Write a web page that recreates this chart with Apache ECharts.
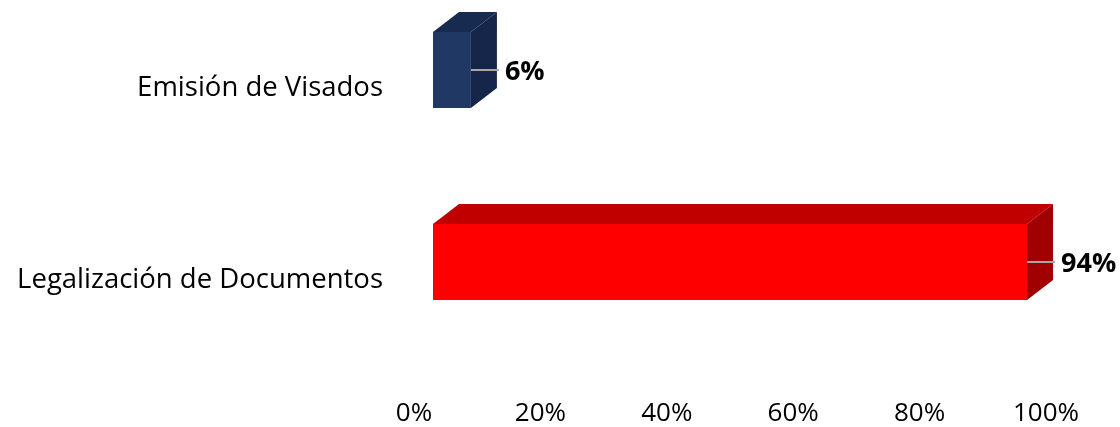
<!DOCTYPE html>
<html>
<head>
<meta charset="utf-8">
<script src="https://cdn.jsdelivr.net/npm/echarts@6/dist/echarts.min.js"></script>
<style>html,body{margin:0;padding:0;background:#fff}#c{width:1120px;height:427px}</style>
</head>
<body>
<div id="c"></div>
<script>
const categories = ['Emisión de Visados', 'Legalización de Documentos'];
const values = [6, 94];
const xTicks = [0, 20, 40, 60, 80, 100];

const frontColors = ['#203864', '#FF0000'];
const topColors = ['#172B50', '#C00000'];
const sideColors = ['#15264A', '#A00000'];

const FONT = '"Open Sans", "Noto Sans", sans-serif';
const DX = 26, DY = 20, BAR_H = 76;

const chart = echarts.init(document.getElementById('c'), null, {renderer: 'canvas'});

function renderItem(params, api) {
  const cat = api.value(1);
  const v = api.value(0);
  const base = api.coord([0, cat]);
  const end = api.coord([v, cat]);
  const h = BAR_H;
  const x0 = base[0], x1 = end[0], c = base[1];
  const y0 = c - h / 2, y1 = c + h / 2;
  const i = params.dataIndex;
  return {
    type: 'group',
    children: [
      {type: 'polygon', shape: {points: [[x0, y0], [x0 + DX, y0 - DY], [x1 + DX, y0 - DY], [x1, y0]]}, style: {fill: topColors[i]}},
      {type: 'polygon', shape: {points: [[x1, y0], [x1 + DX, y0 - DY], [x1 + DX, y1 - DY], [x1, y1]]}, style: {fill: sideColors[i]}},
      {type: 'rect', shape: {x: x0, y: y0, width: x1 - x0, height: h}, style: {fill: frontColors[i]}},
      {type: 'line', shape: {x1: x1, y1: c, x2: x1 + 28, y2: c}, style: {stroke: '#A6A6A6', lineWidth: 2}},
      {type: 'text', style: {x: x1 + 34, y: c + 2, text: values[i] + '%', font: 'bold 27px ' + FONT, fill: '#000', verticalAlign: 'middle', align: 'left'}}
    ]
  };
}

chart.setOption({
  animation: false,
  grid: {left: 433, right: 52, top: 70, bottom: 162, containLabel: false},
  xAxis: {
    type: 'value', min: 0, max: 100, interval: 20,
    axisLine: {show: false}, axisTick: {show: false}, splitLine: {show: false},
    axisLabel: {
      formatter: function (v) { return xTicks.indexOf(v) >= 0 ? v + '%' : ''; },
      fontFamily: FONT, fontSize: 26, color: '#000', lineHeight: 26,
      margin: 139, padding: [0, 38, 0, 0]
    }
  },
  yAxis: {
    type: 'category', data: categories, inverse: true, boundaryGap: false,
    axisLine: {show: false}, axisTick: {show: false}, splitLine: {show: false},
    axisLabel: {fontFamily: FONT, fontSize: 27.5, color: '#000', margin: 50, verticalAlign: 'top', lineHeight: 36}
  },
  series: [{
    type: 'custom',
    renderItem: renderItem,
    encode: {x: 0, y: 1},
    data: values.map((v, i) => [v, i]),
    clip: false
  }]
});
</script>
</body>
</html>
